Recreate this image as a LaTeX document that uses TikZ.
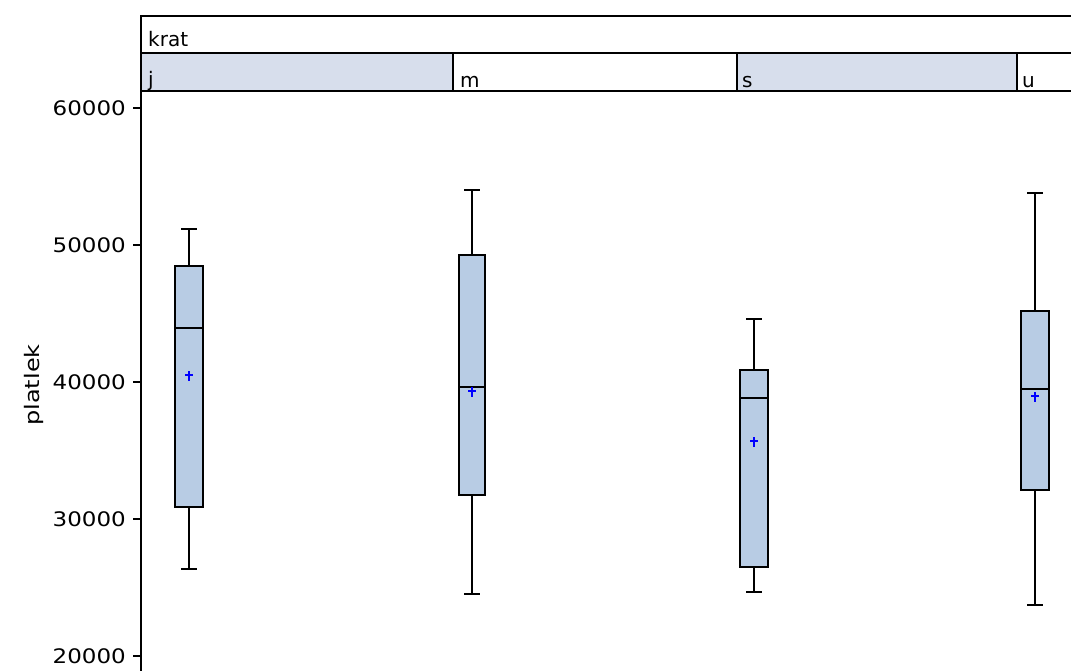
\documentclass[tikz,border=0pt]{standalone}
\usepackage{fontspec}
\setmainfont{DejaVu Sans}
\definecolor{boxfill}{RGB}{184,204,228}
\definecolor{stripfill}{RGB}{215,222,236}
\begin{document}
\begin{tikzpicture}[x=1pt,y=-1pt,line width=2.4pt,
  lbl/.style={font=\fontsize{20}{20}\selectfont,inner sep=0pt},
  slbl/.style={font=\fontsize{20}{20}\selectfont,inner sep=0pt,anchor=base west},
  bx/.style={draw=black,fill=boxfill,line width=2.6pt},
  wh/.style={line width=2.6pt},
  meanmk/.style={draw=blue,line width=2.4pt}]
\useasboundingbox (0,0) rectangle (1071,671);
% strips
\fill[stripfill] (141,53) rectangle (453,91);
\fill[stripfill] (737,53) rectangle (1017,91);
\draw (1071,16) -- (141,16) -- (141,671);
\draw (141,53) -- (1071,53);
\draw (141,91) -- (1071,91);
\draw (453,53) -- (453,91);
\draw (737,53) -- (737,91);
\draw (1017,53) -- (1017,91);
\node[slbl] (krat) at (147,47) {krat};
\node[slbl] (lj) at (147,87) {j};
\node[slbl] (lm) at (459,88) {m};
\node[slbl] (ls) at (741,88) {s};
\node[slbl] (lu) at (1021,88) {u};
% y axis ticks
\foreach \v/\yy in {60000/108,50000/245,40000/382,30000/519,20000/656}{
  \draw (133,\yy) -- (141,\yy);
  \node[lbl,anchor=east] (t\v) at (127,\yy) {\scalebox{1.15}[1]{\v}};
}
\node[lbl,rotate=90] (ylab) at (34,385) {\scalebox{1.2}[1]{platlek}};
% boxes: cx/hw/q3/med/q1/wt/wb/mean
\foreach \cx/\hw/\qt/\md/\qb/\wt/\wb/\mn in {
  189/14/266/328/507/229/569/375,
  472/13/255/387/495/190/594/391,
  754/14/370/398/567/319/592/441,
  1035/14/311/389/490/193/605/396}{
  \draw[wh] (\cx,\qt) -- (\cx,\wt);
  \draw[wh] (\cx-8,\wt) -- (\cx+8,\wt);
  \draw[wh] (\cx,\qb) -- (\cx,\wb);
  \draw[wh] (\cx-8,\wb) -- (\cx+8,\wb);
  \draw[bx] (\cx-\hw,\qt) rectangle (\cx+\hw,\qb);
  \draw[line width=2.6pt] (\cx-\hw,\md) -- (\cx+\hw,\md);
  \draw[meanmk] (\cx-4,\mn) -- (\cx+4,\mn);
  \draw[meanmk] (\cx,\mn-4) -- (\cx,\mn+6);
}
\end{tikzpicture}
\end{document}
